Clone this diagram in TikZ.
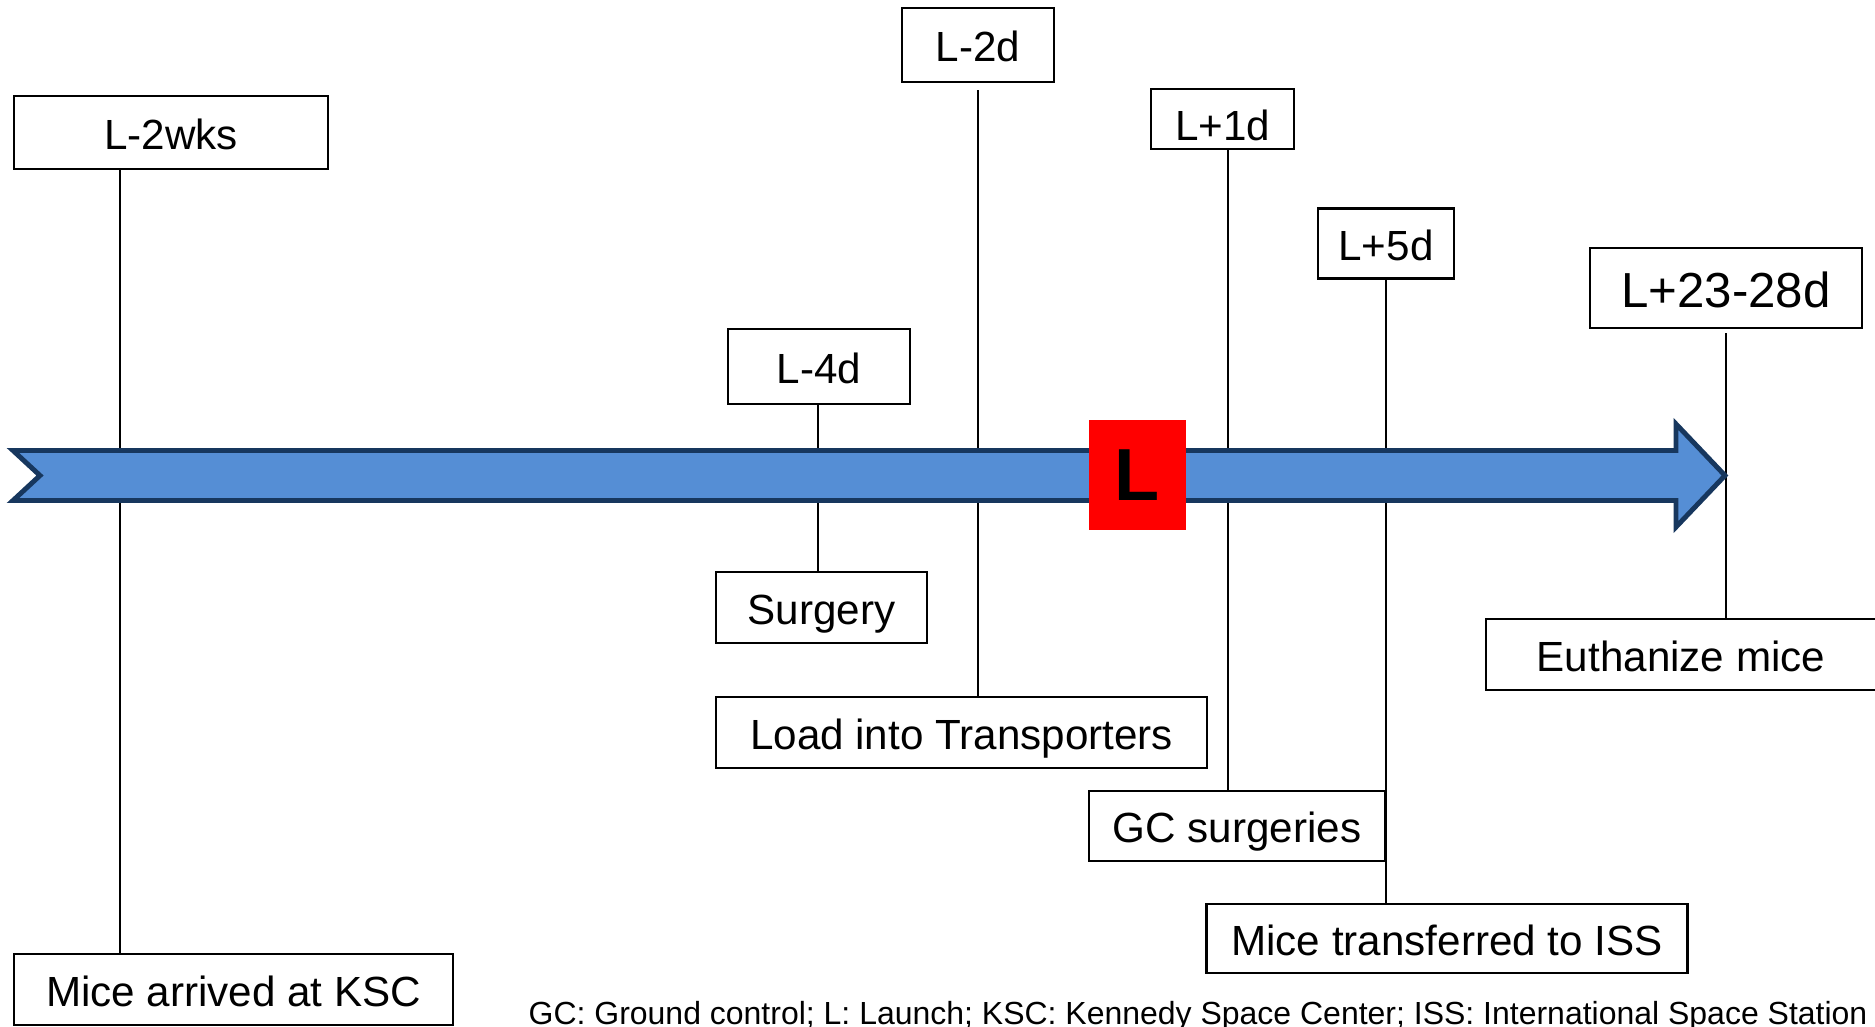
\documentclass[tikz,border=0pt]{standalone}
\usepackage{fontspec}
\setmainfont{Liberation Sans}
\usepackage{xcolor}
\usepackage{tikz}
\definecolor{ejeazul}{RGB}{85,142,213}
\definecolor{bordeazul}{RGB}{23,55,94}

\tikzset{
  caja/.style={draw=black, line width=0.6pt, fill=white, inner sep=0pt,
               text height=10.5pt, text depth=1pt, font=\fontsize{12}{14}\selectfont},
  linea/.style={draw=black, line width=0.6pt},
}

\begin{document}
\begin{tikzpicture}[x=0.1mm, y=-0.1mm]
        \useasboundingbox (0,0) rectangle (1875,1026);
        % Marcas sobre el eje de tiempo
        \coordinate (m1) at (120,475);
        \coordinate (m2) at (818,475);
        \coordinate (m3) at (978,475);
        \coordinate (m4) at (1228,475);
        \coordinate (m5) at (1386,475);
        \coordinate (m6) at (1726,475);
        % Cajas de las fechas (arriba)
        \node[caja, minimum width=31.4mm, minimum height=7.3mm] (wks) at (171,132.5) {L-2wks};
        \node[caja, minimum width=18.2mm, minimum height=7.5mm] (d4) at (819,366.5) {L-4d};
        \node[caja, minimum width=15.2mm, minimum height=7.4mm] (d2) at (978,45) {L-2d};
        \node[caja, minimum width=14.3mm, minimum height=6.0mm, text height=13pt] (d1) at (1222.5,119) {L+1d};
        \node[caja, minimum width=13.6mm, minimum height=7.0mm] (d5) at (1386,243.5) {L+5d};
        \node[caja, minimum width=27.2mm, minimum height=8.0mm, text height=12pt,
              font=\fontsize{14}{16}\selectfont] (d23) at (1726,288) {L+23-28d};
        % Cajas de los eventos (abajo)
        \node[caja, minimum width=43.9mm, minimum height=7.1mm] (arrived) at (233.5,989.5) {Mice arrived at KSC};
        \node[caja, minimum width=21.1mm, minimum height=7.1mm] (surgery) at (821.5,607.5) {Surgery};
        \node[caja, minimum width=49.1mm, minimum height=7.1mm] (load) at (961.5,732.5) {Load into Transporters};
        \node[caja, minimum width=29.6mm, minimum height=7.0mm] (gc) at (1237,826) {GC surgeries};
        \node[caja, minimum width=48.1mm, minimum height=6.9mm] (iss) at (1447,938.5) {Mice transferred to ISS};
        \node[caja, minimum width=39.0mm, minimum height=7.1mm] (euth) at (1681,654.5) {Euthanize mice};
        % Lineas verticales
        \draw[linea] (wks.south -| m1) -- (arrived.north -| m1);
        \draw[linea] (d4.south -| m2) -- (surgery.north -| m2);
        \draw[linea, shorten <=0.7mm] (d2.south -| m3) -- (load.north -| m3);
        \draw[linea] (d1.south -| m4) -- (gc.north -| m4);
        \draw[linea] (d5.south -| m5) -- (iss.north -| m5);
        \draw[linea, shorten <=0.4mm] (d23.south -| m6) -- (euth.north -| m6);
        % Flecha del eje de tiempo
        \draw[draw=bordeazul, fill=ejeazul, line width=1.4pt, miter limit=10]
            (13,450.5) -- (1676,450.5) -- (1676,424) -- (1725,475.5) -- (1676,527)
            -- (1676,500.5) -- (13,500.5) -- (40,475.5) -- cycle;
        % Lanzamiento
        \node[fill=red, inner sep=0pt, minimum width=9.7mm, minimum height=11mm,
              font=\fontsize{21}{21}\selectfont\bfseries] (launch) at (1137.5,475) {L};
        % Nota al pie
        \node[anchor=base, inner sep=0pt, font=\fontsize{9.1}{11}\selectfont] (nota) at (1198,1024)
            {GC: Ground control; L: Launch; KSC: Kennedy Space Center; ISS: International Space Station};
\end{tikzpicture}
\end{document}
